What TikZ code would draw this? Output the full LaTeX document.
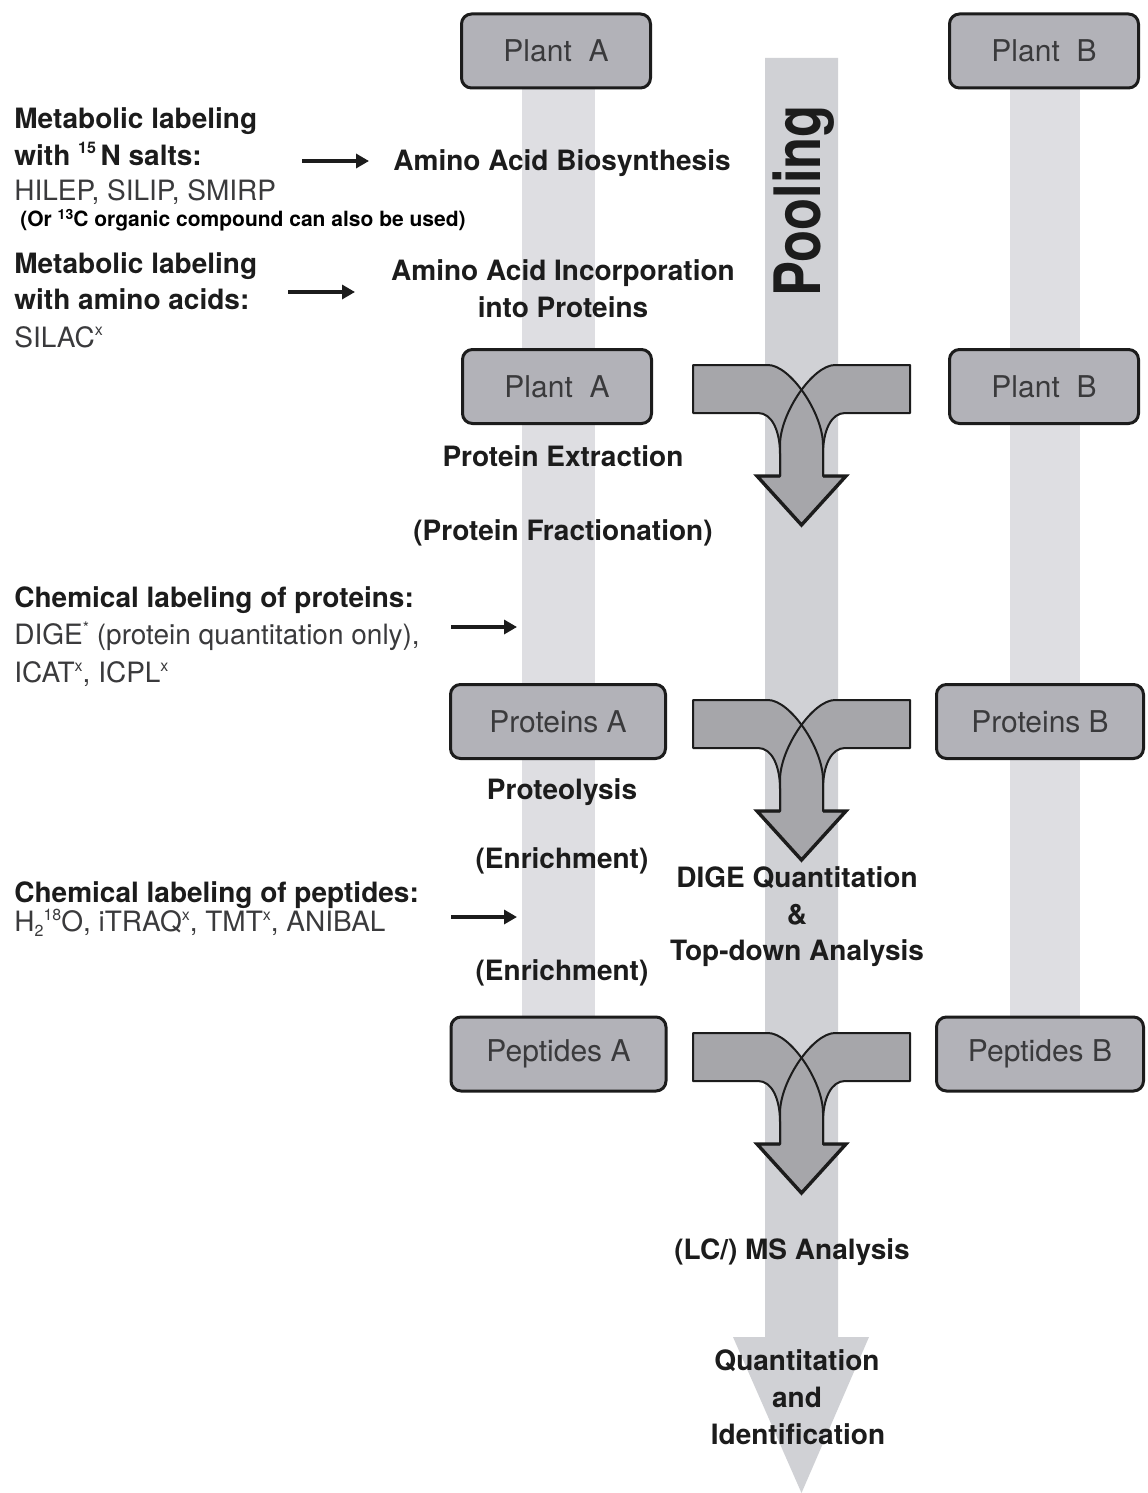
\documentclass[tikz,border=0pt]{standalone}
\usepackage{fontspec}
\setmainfont{TeX Gyre Heros}
\usetikzlibrary{arrows.meta}

\definecolor{boxfill}{RGB}{178,178,184}
\definecolor{mergefill}{RGB}{166,166,170}
\definecolor{lanefill}{RGB}{222,222,226}
\definecolor{poolfill}{RGB}{208,209,213}
\definecolor{ink}{RGB}{28,28,28}
\definecolor{softink}{RGB}{58,58,60}

% small raised and lowered marks for isotope and reagent notes
\newcommand{\upmark}[1]{\raisebox{0.75ex}{\fontsize{8}{8}\selectfont #1}}
\newcommand{\downmark}[1]{\raisebox{-0.35ex}{\fontsize{8}{8}\selectfont #1}}

\tikzset{
  samplebox/.style={draw=ink, line width=1.5pt, fill=boxfill, rounded corners=5pt,
    inner sep=0pt, text=softink, font=\fontsize{15}{18}\selectfont},
  plantbox/.style={samplebox, minimum width=94.5pt, minimum height=37pt},
  widebox/.style={samplebox, minimum width=107.5pt, minimum height=37pt},
  rightbox/.style={samplebox, minimum width=103.5pt, minimum height=37pt},
  steplbl/.style={inner sep=0pt, text=ink, font=\fontsize{14}{16}\selectfont\bfseries},
  methlbl/.style={inner sep=0pt, text=softink, font=\fontsize{14}{16}\selectfont},
  smalllbl/.style={inner sep=0pt, text=black, font=\fontsize{10.5}{12}\selectfont\bfseries},
  feedarrow/.style={draw=ink, line width=2pt, -{Triangle[length=6.5pt,width=7pt]}},
  mergearrow/.pic={
    % two bands bending into one shared shaft and head
    \fill[mergefill] (693,0) -- (768,0) .. controls (790,0) and (823,48) .. (823,80)
      -- (823,111) -- (846,111) -- (801.5,160) -- (757,111) -- (780,111) -- (780,89)
      .. controls (780,66) and (772,48) .. (758,48) -- (693,48) -- cycle;
    \fill[mergefill] (910,0) -- (835,0) .. controls (813,0) and (780,48) .. (780,80)
      -- (780,111) -- (757,111) -- (801.5,160) -- (846,111) -- (823,111) -- (823,89)
      .. controls (823,66) and (831,48) .. (845,48) -- (910,48) -- cycle;
    \draw[ink, line width=1pt, line join=round] (693,0) -- (768,0) .. controls (790,0) and (823,48) .. (823,80)
      -- (823,111) -- (846,111) -- (801.5,160) -- (757,111) -- (780,111) -- (780,89)
      .. controls (780,66) and (772,48) .. (758,48) -- (693,48) -- cycle;
    \draw[ink, line width=1pt, line join=round] (910,0) -- (835,0) .. controls (813,0) and (780,48) .. (780,80)
      -- (780,111) -- (757,111) -- (801.5,160) -- (846,111) -- (823,111) -- (823,89)
      .. controls (823,66) and (831,48) .. (845,48) -- (910,48) -- cycle;
    \draw[ink, line width=1.7pt, line join=miter]
      (780,111) -- (757,111) -- (801.5,160) -- (846,111) -- (823,111);
  }
}

\begin{document}
\begin{tikzpicture}[x=0.5pt, y=-0.5pt]
\useasboundingbox (0,0) rectangle (1147,1493);
\fill[white] (0,0) rectangle (1147,1493);

% sample lanes and the pooled lane
\fill[lanefill] (522,89) rectangle (595,1017);
\fill[lanefill] (1010,89) rectangle (1080,1017);
\fill[poolfill] (765,58) -- (838,58) -- (838,1337) -- (869,1337) -- (801.5,1493)
  -- (733,1337) -- (765,1337) -- cycle;
\node[rotate=90, anchor=base, inner sep=0pt, text=ink,
  font=\fontsize{32}{34}\selectfont\bfseries] (pool) at (820,201)
  {\scalebox{0.82}[1]{Pooling}};

% merging arrows
\pic at (0,365) {mergearrow};
\pic at (0,700) {mergearrow};
\pic at (0,1033) {mergearrow};

% sample boxes
\node[plantbox] (plantA) at (556,51) {Plant~~A};
\node[plantbox] (plantB) at (1044,51) {Plant~~B};
\node[plantbox] (plantA2) at (557,386.5) {Plant~~A};
\node[plantbox] (plantB2) at (1044,386.5) {Plant~~B};
\node[widebox] (protA) at (558,721.5) {Proteins A};
\node[rightbox] (protB) at (1040,721.5) {Proteins B};
\node[widebox] (pepA) at (558.5,1054) {Peptides A};
\node[rightbox] (pepB) at (1040,1054) {Peptides B};

% labeling methods
\node[steplbl, anchor=base west] (m1a) at (14,128) {Metabolic labeling};
\node[steplbl, anchor=base west] (m1b) at (14,165) {with \upmark{15}\,N salts:};
\node[methlbl, anchor=base west] (m1c) at (14,200) {HILEP, SILIP, SMIRP};
\node[smalllbl, anchor=base west] (m1d) at (20,226) {(Or {\fontsize{7}{7}\selectfont\raisebox{0.8ex}{13}}C organic compound can also be used)};
\node[steplbl, anchor=base west] (m2a) at (14,273) {Metabolic labeling};
\node[steplbl, anchor=base west] (m2b) at (14,309) {with amino acids:};
\node[methlbl, anchor=base west] (m2c) at (14,347) {SILAC\upmark{x}};
\node[steplbl, anchor=base west] (c1a) at (14,607) {Chemical labeling of proteins:};
\node[methlbl, anchor=base west] (c1b) at (14,644) {DIGE\upmark{*} (protein quantitation only),};
\node[methlbl, anchor=base west] (c1c) at (14,682) {ICAT\upmark{x}, ICPL\upmark{x}};
\node[steplbl, anchor=base west] (c2a) at (14,902) {Chemical labeling of peptides:};
\node[methlbl, anchor=base west] (c2b) at (14,931) {H\downmark{2}\upmark{18}O, iTRAQ\upmark{x}, TMT\upmark{x}, ANIBAL};

% workflow steps
\node[steplbl, anchor=base] (s1) at (562,170) {Amino Acid Biosynthesis};
\node[steplbl, anchor=base] (s2a) at (563,280) {Amino Acid Incorporation};
\node[steplbl, anchor=base] (s2b) at (563,317) {into Proteins};
\node[steplbl, anchor=base] (s3) at (563,466) {Protein Extraction};
\node[steplbl, anchor=base] (s4) at (563,540) {(Protein Fractionation)};
\node[steplbl, anchor=base] (s5) at (562,799) {Proteolysis};
\node[steplbl, anchor=base] (s6) at (562,868) {(Enrichment)};
\node[steplbl, anchor=base] (s7) at (562,980) {(Enrichment)};
\node[steplbl, anchor=base] (d1) at (797,887) {DIGE Quantitation};
\node[steplbl, anchor=base] (d2) at (797,924) {\&};
\node[steplbl, anchor=base] (d3) at (797,960) {Top-down Analysis};
\node[steplbl, anchor=base] (ms) at (792,1259) {(LC/) MS Analysis};
\node[steplbl, anchor=base] (q1) at (797,1370) {Quantitation};
\node[steplbl, anchor=base] (q2) at (797,1407) {and};
\node[steplbl, anchor=base] (q3) at (798,1444) {Identification};

% feed-in arrows
\coordinate (f1s) at (302,161);  \coordinate (f1e) at (369,161);
\coordinate (f2s) at (288,292);  \coordinate (f2e) at (355,292);
\coordinate (f3s) at (451,627);  \coordinate (f3e) at (517,627);
\coordinate (f4s) at (451,917);  \coordinate (f4e) at (517,917);
\draw[feedarrow] (f1s) -- (f1e);
\draw[feedarrow] (f2s) -- (f2e);
\draw[feedarrow] (f3s) -- (f3e);
\draw[feedarrow] (f4s) -- (f4e);
\end{tikzpicture}
\end{document}
